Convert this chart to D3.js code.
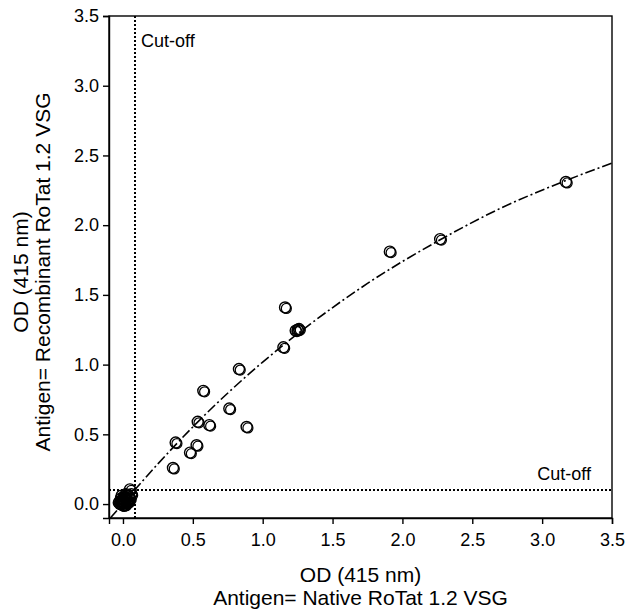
<!DOCTYPE html>
<html>
<head>
<meta charset="utf-8">
<script src="https://cdn.jsdelivr.net/npm/d3@7"></script>
<style>
  html, body { margin: 0; padding: 0; background: #fff; }
  text { font-family: "Liberation Sans", Arial, sans-serif; fill: #000; }
</style>
</head>
<body>
<svg id="chart" width="626" height="611"></svg>
<script>
// ---- data ----
const xNative = [3.17, 2.27, 1.91, 1.16, 1.236, 1.25, 1.26, 1.148, 0.83, 0.575, 0.761, 0.535, 0.618, 0.885, 0.377, 0.527, 0.48, 0.358, 0.05,
  -0.02, -0.01, 0.0, 0.01, -0.015, 0.02, 0.03, 0.04, 0.05, 0.0, -0.02, 0.01, 0.03, 0.02, 0.06, -0.01, 0.04, 0.0, -0.03, 0.015];
const yRecombinant = [2.31, 1.90, 1.81, 1.41, 1.244, 1.25, 1.255, 1.124, 0.968, 0.812, 0.685, 0.59, 0.566, 0.553, 0.441, 0.422, 0.369, 0.259, 0.105,
  0.0, 0.02, 0.03, 0.01, 0.04, 0.05, 0.03, 0.06, 0.04, -0.01, 0.02, 0.05, 0.01, 0.07, 0.07, 0.06, 0.02, 0.01, 0.01, -0.005];
const fitX = [-0.09, 0.25, 0.5, 1.0, 1.34, 1.75, 2.27, 2.7, 3.1, 3.5];
const fitY = [-0.10, 0.288, 0.553, 1.018, 1.29, 1.582, 1.895, 2.12, 2.292, 2.445];
const cutoffX = 0.085;
const cutoffY = 0.10;
const xTicks = [0.0, 0.5, 1.0, 1.5, 2.0, 2.5, 3.0, 3.5];
const yTicks = [0.0, 0.5, 1.0, 1.5, 2.0, 2.5, 3.0, 3.5];
const xTitle = ["OD (415 nm)", "Antigen= Native RoTat 1.2 VSG"];
const yTitle = ["OD (415 nm)", "Antigen= Recombinant RoTat 1.2 VSG"];
const cutoffLabel = "Cut-off";

// ---- layout ----
const L = 109, R = 612, T = 16, B = 518;
const svg = d3.select("#chart");
const x = d3.scaleLinear().domain([-0.1, 3.5]).range([L, R]);
const y = d3.scaleLinear().domain([-0.1, 3.5]).range([B, T]);

// frame
svg.append("rect").attr("x", L).attr("y", T).attr("width", R - L).attr("height", B - T)
  .attr("fill", "none").attr("stroke", "#000").attr("stroke-width", 1.4);

// axes
const fmt = d3.format(".1f");
const gx = svg.append("g").attr("transform", `translate(0,${B})`)
  .call(d3.axisBottom(x).tickValues(xTicks).tickFormat(fmt).tickSize(6).tickPadding(9));
const gy = svg.append("g").attr("transform", `translate(${L},0)`)
  .call(d3.axisLeft(y).tickValues(yTicks).tickFormat(fmt).tickSize(6).tickPadding(4));
[gx, gy].forEach(g => {
  g.select(".domain").attr("stroke", "#000").attr("stroke-width", 1.4);
  g.selectAll(".tick line").attr("stroke", "#000").attr("stroke-width", 1.4);
  g.selectAll(".tick text").style("font-size", "18px").style("font-family", "'Liberation Sans', Arial, sans-serif").attr("fill", "#000");
});

// cut-off lines
const cxp = Math.round(x(cutoffX)), cyp = Math.round(y(cutoffY));
svg.append("line").attr("x1", cxp).attr("x2", cxp).attr("y1", T).attr("y2", B)
  .attr("stroke", "#000").attr("stroke-width", 2).attr("stroke-dasharray", "2,2").attr("shape-rendering", "crispEdges");
svg.append("line").attr("x1", L).attr("x2", R).attr("y1", cyp).attr("y2", cyp)
  .attr("stroke", "#000").attr("stroke-width", 2).attr("stroke-dasharray", "2,2").attr("shape-rendering", "crispEdges");
svg.append("text").attr("x", cxp + 6).attr("y", 47).style("font-size", "18px").text(cutoffLabel);
svg.append("text").attr("x", 591).attr("y", cyp - 10).attr("text-anchor", "end").style("font-size", "18px").text(cutoffLabel);

// fit curve
const fitData = fitX.map((v, i) => [v, fitY[i]]);
svg.append("path").datum(fitData)
  .attr("d", d3.line().x(d => x(d[0])).y(d => y(d[1])).curve(d3.curveMonotoneX))
  .attr("fill", "none").attr("stroke", "#000").attr("stroke-width", 1.6)
  .attr("stroke-dasharray", "10,3,2,3");

// points (duplicate rings)
const pts = xNative.map((v, i) => [v, yRecombinant[i]]);
const gp = svg.append("g");
pts.forEach(d => {
  gp.append("circle").attr("cx", x(d[0])).attr("cy", y(d[1])).attr("r", 5.5)
    .attr("fill", "none").attr("stroke", "#000").attr("stroke-width", 1.4);
  gp.append("circle").attr("cx", x(d[0]) + 1.3).attr("cy", y(d[1]) + 1.0).attr("r", 5)
    .attr("fill", "none").attr("stroke", "#000").attr("stroke-width", 1.2);
});

// axis titles
const cx = (L + R) / 2;
svg.append("text").attr("x", cx).attr("y", 582).attr("text-anchor", "middle").style("font-size", "21px").text(xTitle[0]);
svg.append("text").attr("x", cx).attr("y", 605).attr("text-anchor", "middle").style("font-size", "21px").text(xTitle[1]);
const cy = 272;
svg.append("text").attr("transform", `translate(28,${cy}) rotate(-90)`).attr("text-anchor", "middle").style("font-size", "21px").text(yTitle[0]);
svg.append("text").attr("transform", `translate(50,${cy}) rotate(-90)`).attr("text-anchor", "middle").style("font-size", "21px").text(yTitle[1]);
</script>
</body>
</html>
